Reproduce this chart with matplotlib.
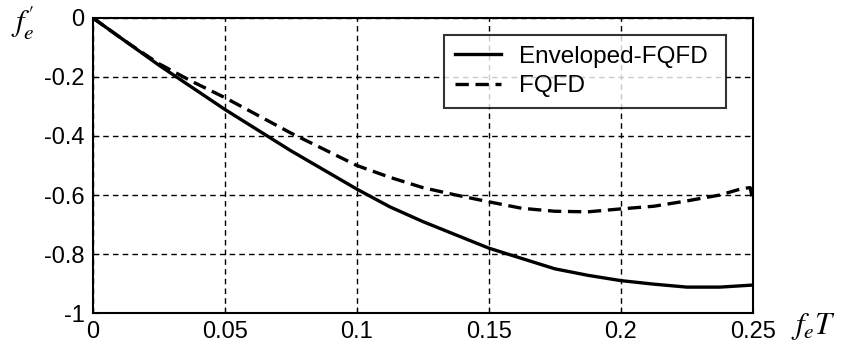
import numpy as np
import matplotlib
matplotlib.use("Agg")
import matplotlib.pyplot as plt

x = [0, 0.0125, 0.025, 0.0375, 0.05, 0.0625, 0.075, 0.0875, 0.1, 0.1125, 0.125,
     0.1375, 0.15, 0.1625, 0.175, 0.1875, 0.2, 0.2125, 0.225, 0.2375, 0.25]
enveloped = [0, -0.08, -0.16, -0.235, -0.31, -0.38, -0.45, -0.515, -0.58, -0.64, -0.69,
             -0.735, -0.78, -0.815, -0.85, -0.872, -0.89, -0.902, -0.912, -0.912, -0.905]
x_fqfd = [0, 0.0125, 0.025, 0.0375, 0.05, 0.0625, 0.075, 0.0875, 0.1, 0.1125, 0.125,
          0.1375, 0.15, 0.1625, 0.175, 0.1875, 0.2, 0.2125, 0.225, 0.2375, 0.246, 0.249, 0.25]
fqfd = [0, -0.08, -0.155, -0.215, -0.27, -0.33, -0.39, -0.445, -0.50, -0.54, -0.575,
        -0.60, -0.623, -0.645, -0.655, -0.657, -0.647, -0.638, -0.62, -0.60, -0.578, -0.575, -0.62]

plt.rcParams['font.family'] = 'Liberation Sans'
plt.rcParams['mathtext.fontset'] = 'stix'

fig = plt.figure(figsize=(8.44, 3.51), dpi=100)
ax = fig.add_axes([0.110, 0.108, 0.782, 0.841])

ax.plot(x, enveloped, color='black', lw=2.4, label='Enveloped-FQFD')
ax.plot(x_fqfd, fqfd, color='black', lw=2.4, ls=(0, (4, 2)), label='FQFD')

ax.set_xlim(0, 0.25)
ax.set_ylim(-1, 0)
ax.set_xticks([0, 0.05, 0.1, 0.15, 0.2, 0.25])
ax.set_xticklabels(['0', '0.05', '0.1', '0.15', '0.2', '0.25'])
ax.set_yticks([-1, -0.8, -0.6, -0.4, -0.2, 0])
ax.set_yticklabels(['-1', '-0.8', '-0.6', '-0.4', '-0.2', '0'])
ax.tick_params(direction='in', length=4, labelsize=17, pad=6)
ax.grid(True, color='black', ls=(0, (4, 3)), lw=1)
for s in ax.spines.values():
    s.set_linewidth(1.5)

leg = ax.legend(loc='upper right', bbox_to_anchor=(0.959, 0.942), fontsize=17.5,
                frameon=True, fancybox=False, edgecolor='black', handlelength=1.9,
                borderpad=0.45, labelspacing=0.3, handletextpad=0.75, borderaxespad=0)
leg.get_frame().set_linewidth(1.5)
for t in leg.get_texts():
    t.set_text(t.get_text() + ' ')

fig.text(0.013, 0.935, r"$f_e^{\prime}$", fontsize=22, ha='left', va='center')
fig.text(0.937, 0.071, r"$f_eT$", fontsize=22, ha='left', va='center')

fig.savefig("out.png", dpi=100)
